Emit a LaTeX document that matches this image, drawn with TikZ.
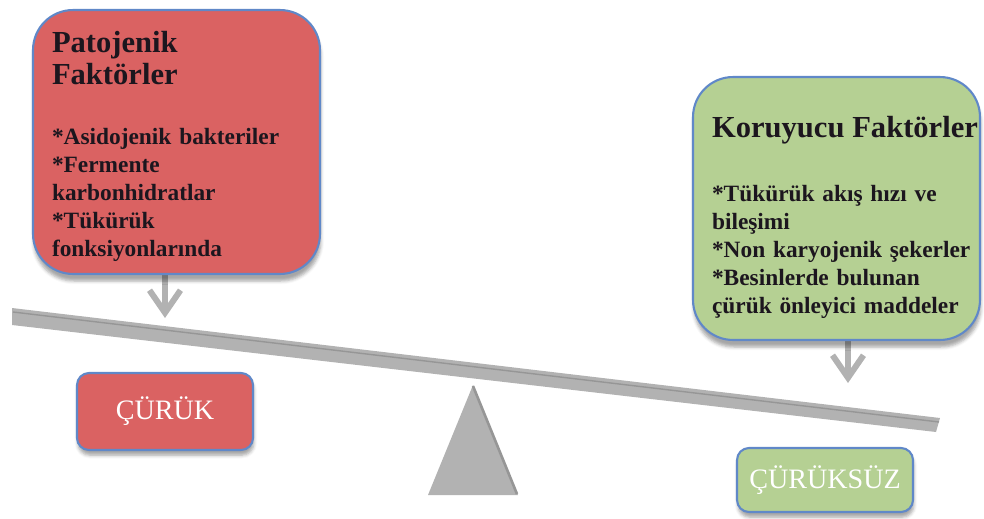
\documentclass[tikz,border=0pt]{standalone}
\usepackage{fontspec}
\setmainfont{Liberation Serif}
\usepackage{tikz}
\usetikzlibrary{arrows.meta,shadows.blur}
\pgfdeclarelayer{edgelayer}
\pgfdeclarelayer{nodelayer}
\pgfsetlayers{edgelayer,nodelayer,main}
\definecolor{kred}{RGB}{218,98,98}
\definecolor{kgreen}{RGB}{181,208,147}
\definecolor{kborder}{RGB}{96,136,200}
\definecolor{kbeam}{RGB}{178,178,178}
\definecolor{kedge}{RGB}{150,150,150}
\definecolor{kink}{RGB}{28,22,30}
\newcommand{\titlesize}{\fontsize{17.4}{18.2}\selectfont}
\tikzstyle{factor}=[rectangle,rounded corners=0.8cm,draw=kborder,line width=1.2pt,minimum width=5.74cm,minimum height=5.28cm,text width=4.98cm,inner xsep=0.38cm,align=left,text=kink,font=\bfseries\fontsize{13.3}{15.9}\selectfont,blur shadow={shadow xshift=0.5pt,shadow yshift=-4pt,shadow opacity=35}]
\tikzstyle{result}=[rectangle,rounded corners=0.24cm,draw=kborder,line width=1.2pt,minimum width=3.52cm,text=white,font=\fontsize{16}{18}\selectfont,blur shadow={shadow xshift=0.5pt,shadow yshift=-3pt,shadow opacity=35}]
\tikzstyle{inarrow}=[-{Straight Barb[length=0.45cm,width=0.62cm]},draw=kbeam,line width=0.12cm]

\begin{document}
\begin{tikzpicture}[x=0.02cm,y=-0.02cm]
	\useasboundingbox (0,0) rectangle (984,518);
	\begin{pgfonlayer}{nodelayer}
		\node [style=factor, fill=kred] (patojen) at (176.5,142) {{\titlesize \rule{0pt}{17pt}Patojenik\\[2.3pt] Faktörler}\\[18.7pt]
			{*}Asidojenik bakteriler\\ {*}Fermente\\ karbonhidratlar\\ {*}Tükürük\\ fonksiyonlarında};
		\node [style=factor, fill=kgreen, minimum height=5.26cm] (koruyucu) at (836.5,208.5) {{\titlesize \rule{0pt}{22pt}\mbox{Koruyucu Faktörler}}\\[21pt]
			{*}Tükürük akış hızı ve\\ bileşimi\\ \mbox{{*}Non karyojenik şekerler}\\ {*}Besinlerde bulunan\\ \mbox{çürük önleyici maddeler}};
		\node [style=result, fill=kred, minimum height=1.54cm] (curuk) at (165,411.5) {ÇÜRÜK};
		\node [style=result, fill=kgreen, minimum height=1.28cm] (curuksuz) at (825,480) {ÇÜRÜKSÜZ};
		\coordinate (ltip) at (165,318);
		\coordinate (rtip) at (848,383);
	\end{pgfonlayer}
	\begin{pgfonlayer}{edgelayer}
		% beam and fulcrum
		\fill [kbeam] (12,308) -- (940,418) -- (936,432) -- (12,325) -- cycle;
		\draw [kedge, line width=0.8pt] (13,312) -- (939,422);
		\fill [kbeam] (473,385) -- (518,495) -- (428,495) -- cycle;
		\draw [kedge, line width=1.5pt] (473,386) -- (517,494);
		\draw [style=inarrow] (patojen.south -| ltip) -- (ltip);
		\draw [style=inarrow] (koruyucu.south -| rtip) -- (rtip);
	\end{pgfonlayer}
\end{tikzpicture}
\end{document}
